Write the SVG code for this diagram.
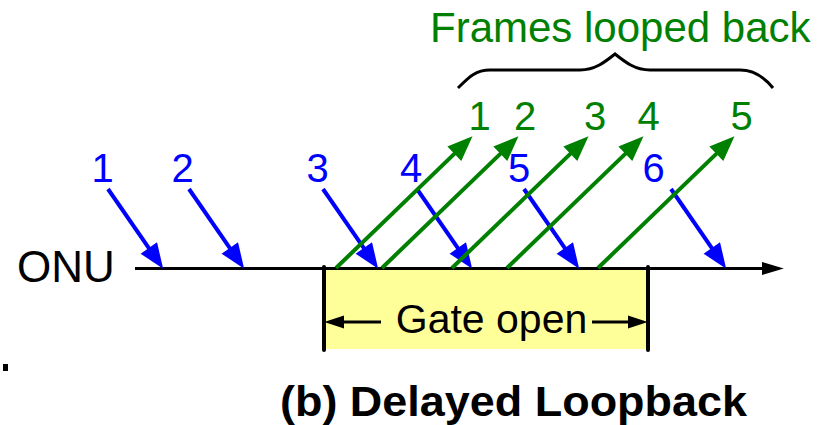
<svg xmlns="http://www.w3.org/2000/svg" width="831" height="425" viewBox="0 0 831 425">
  <style>
    text { font-family: "Liberation Sans", Arial, sans-serif; }
    .blue { fill: #0000FF; font-size: 40px; text-anchor: middle; }
    .green { fill: #008000; font-size: 40px; text-anchor: middle; }
    .down { stroke: #0000FF; stroke-width: 4; fill: none; marker-end: url(#headBlue); }
    .up { stroke: #008000; stroke-width: 4; fill: none; marker-end: url(#headGreen); }
    .blk { stroke: #000; fill: none; }
  </style>
  <defs>
    <marker id="headBlue" markerUnits="userSpaceOnUse" markerWidth="26" markerHeight="20" viewBox="0 0 24 19" refX="3" refY="9.5" orient="auto">
      <path d="M0,0 L24,9.5 L0,19 z" fill="#0000FF"/>
    </marker>
    <marker id="headGreen" markerUnits="userSpaceOnUse" markerWidth="26" markerHeight="20" viewBox="0 0 24 19" refX="3" refY="9.5" orient="auto">
      <path d="M0,0 L24,9.5 L0,19 z" fill="#008000"/>
    </marker>
    <marker id="headBlack" markerUnits="userSpaceOnUse" markerWidth="22" markerHeight="14" viewBox="0 0 20 12" refX="2" refY="6" orient="auto">
      <path d="M0,0 L20,6 L0,12 z" fill="#000"/>
    </marker>
    <marker id="headGate" markerUnits="userSpaceOnUse" markerWidth="20" markerHeight="14" viewBox="0 0 18 12" refX="2" refY="6" orient="auto">
      <path d="M0,0 L18,6 L0,12 z" fill="#000"/>
    </marker>
  </defs>

  <!-- gate window -->
  <g id="gate">
    <rect x="324" y="268" width="324" height="81" fill="#FFFF99"/>
    <line class="blk" x1="324" y1="267" x2="324" y2="350" stroke-width="4" stroke-linecap="round"/>
    <line class="blk" x1="648" y1="267" x2="648" y2="350" stroke-width="4" stroke-linecap="round"/>
    <line class="blk" x1="381" y1="322" x2="342" y2="322" stroke-width="3" marker-end="url(#headGate)"/>
    <line class="blk" x1="592" y1="322" x2="630" y2="322" stroke-width="3" marker-end="url(#headGate)"/>
    <text x="491.5" y="333" font-size="41" text-anchor="middle" fill="#000">Gate open</text>
  </g>

  <!-- ONU time axis -->
  <g id="onu">
    <text x="17" y="282" font-size="44" fill="#000">ONU</text>
    <line class="blk" x1="135" y1="268.5" x2="764" y2="268.5" stroke-width="3" marker-end="url(#headBlack)"/>
  </g>

  <!-- frames arriving (blue) and looped back (green) -->
  <g id="connectors">
    <line class="down" x1="108" y1="189" x2="150.6" y2="250.6"/>
    <line class="down" x1="189" y1="189" x2="231.6" y2="250.6"/>
    <line class="down" x1="323" y1="189" x2="365.6" y2="250.6"/>
    <line class="down" x1="417" y1="189" x2="459.6" y2="250.6"/>
    <line class="down" x1="524" y1="189" x2="566.6" y2="250.6"/>
    <line class="down" x1="671" y1="189" x2="713.6" y2="250.6"/>

    <line class="up" x1="336" y1="268" x2="456.6" y2="151.6"/>
    <line class="up" x1="382" y1="268" x2="502.6" y2="151.6"/>
    <line class="up" x1="452" y1="268" x2="572.6" y2="151.6"/>
    <line class="up" x1="507" y1="268" x2="627.6" y2="151.6"/>
    <line class="up" x1="598" y1="268" x2="718.6" y2="151.6"/>
  </g>

  <g id="sent-labels">
    <text class="blue" x="102.5" y="182">1</text>
    <text class="blue" x="182.5" y="182">2</text>
    <text class="blue" x="317.5" y="182">3</text>
    <text class="blue" x="411" y="182">4</text>
    <text class="blue" x="519" y="182">5</text>
    <text class="blue" x="653.5" y="182">6</text>
  </g>

  <g id="looped-labels">
    <text class="green" x="479.5" y="130">1</text>
    <text class="green" x="525" y="130">2</text>
    <text class="green" x="595" y="130">3</text>
    <text class="green" x="648.5" y="130">4</text>
    <text class="green" x="741.5" y="130">5</text>
  </g>

  <!-- brace over the looped-back frames -->
  <g id="brace">
    <path class="blk" stroke-width="3" d="M458,88 C468,78 475,70 490,70 L580,70 C595,70 605,62 615,54 C625,62 635,70 650,70 L740,70 C755,70 765,78 773,88"/>
    <text x="430" y="42" font-size="42" fill="#008000">Frames looped back</text>
  </g>

  <rect x="3" y="364" width="5" height="7" fill="#000"/>

  <g id="caption">
    <text x="513.5" y="416" font-size="43" font-weight="bold" text-anchor="middle" textLength="467" lengthAdjust="spacingAndGlyphs" fill="#000">(b) Delayed Loopback</text>
  </g>
</svg>
